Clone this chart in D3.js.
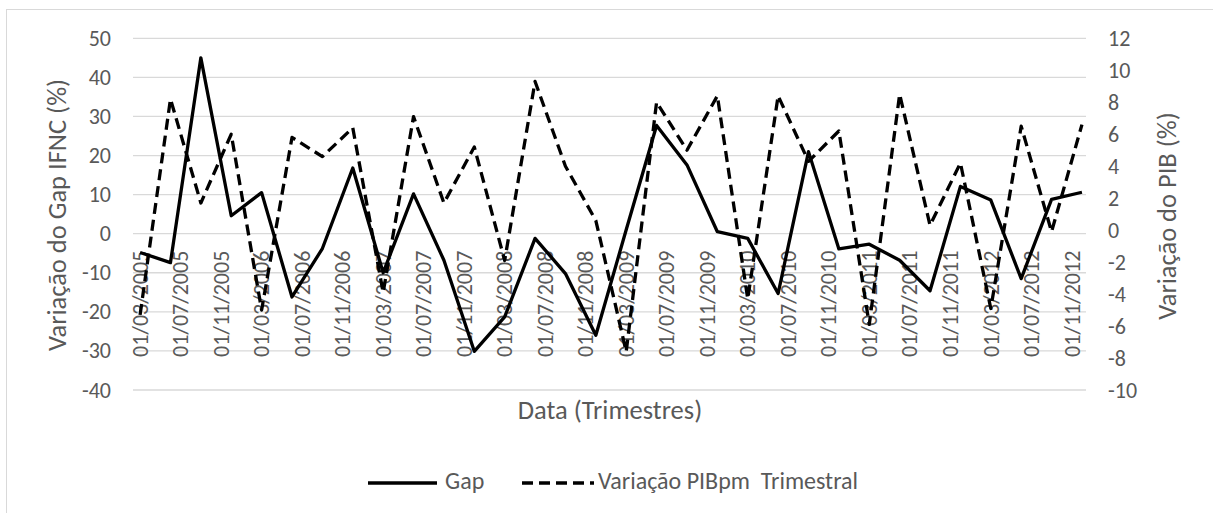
<!DOCTYPE html>
<html>
<head>
<meta charset="utf-8">
<script src="https://cdn.jsdelivr.net/npm/d3@7"></script>
<style>
  html, body { margin: 0; padding: 0; background: #fff; }
  svg text { font-family: Carlito, Lato, "Open Sans", sans-serif; fill: #595959; }
</style>
</head>
<body>
<svg id="chart" width="1213" height="513"></svg>
<script>
// Quarterly observations (dd/mm/yyyy)
const quarters = [
  "01/03/2005","01/06/2005","01/09/2005","01/12/2005",
  "01/03/2006","01/06/2006","01/09/2006","01/12/2006",
  "01/03/2007","01/06/2007","01/09/2007","01/12/2007",
  "01/03/2008","01/06/2008","01/09/2008","01/12/2008",
  "01/03/2009","01/06/2009","01/09/2009","01/12/2009",
  "01/03/2010","01/06/2010","01/09/2010","01/12/2010",
  "01/03/2011","01/06/2011","01/09/2011","01/12/2011",
  "01/03/2012","01/06/2012","01/09/2012","01/12/2012"
];

// Gap IFNC variation (%), left axis
const gap = [
  -4.8, -7.4, 45.0, 4.6, 10.5, -16.2, -3.8, 16.8,
  -10.0, 10.2, -6.8, -30.1, -21.3, -1.2, -10.2, -26.0,
  1.0, 27.7, 17.6, 0.5, -1.2, -15.3, 21.0, -3.9,
  -2.7, -6.8, -14.6, 12.1, 8.6, -11.5, 8.8, 10.6
];

// Quarterly GDP (PIBpm) variation (%), right axis
const pib = [
  -5.3, 8.2, 1.7, 6.0, -5.0, 5.8, 4.6, 6.4,
  -3.9, 7.1, 1.7, 5.2, -1.9, 9.3, 4.0, 0.6,
  -7.6, 8.0, 5.0, 8.4, -4.3, 8.4, 4.3, 6.2,
  -5.9, 8.5, 0.3, 4.2, -4.9, 6.5, -0.1, 6.6
];

// Date axis labels (every four months)
const xTickLabels = [
  "01/03/2005","01/07/2005","01/11/2005","01/03/2006","01/07/2006","01/11/2006",
  "01/03/2007","01/07/2007","01/11/2007","01/03/2008","01/07/2008","01/11/2008",
  "01/03/2009","01/07/2009","01/11/2009","01/03/2010","01/07/2010","01/11/2010",
  "01/03/2011","01/07/2011","01/11/2011","01/03/2012","01/07/2012","01/11/2012"
];
const leftTicks = [50, 40, 30, 20, 10, 0, -10, -20, -30, -40];
const rightTicks = [12, 10, 8, 6, 4, 2, 0, -2, -4, -6, -8, -10];

const seriesNames = ["Gap", "Variação PIBpm  Trimestral"];
const leftTitle = "Variação do Gap IFNC (%)";
const rightTitle = "Variação do PIB (%)";
const xTitle = "Data (Trimestres)";

const parse = d3.timeParse("%d/%m/%Y");
const origin = parse(quarters[0]);
const monthIndex = s => d3.timeMonth.count(origin, parse(s));

const svg = d3.select("#chart");
const plot = { left: 133, right: 1086, top: 38.3, bottom: 390 };
const tickFont = 22;
const titleFont = 26.5;
const legendFont = 24;

// chart frame
svg.append("rect")
  .attr("x", 6.5).attr("y", 9.5)
  .attr("width", 1213).attr("height", 513)
  .attr("fill", "none").attr("stroke", "#d9d9d9").attr("stroke-width", 1);

const x = d3.scaleLinear()
  .domain([-0.7, monthIndex(quarters[quarters.length - 1]) + 0.4])
  .range([plot.left, plot.right]);
const yL = d3.scaleLinear().domain([-40, 50]).range([plot.bottom, plot.top]);
const yR = d3.scaleLinear().domain([-10, 12]).range([plot.bottom, plot.top]);

// horizontal gridlines
svg.append("g").selectAll("line").data(leftTicks).join("line")
  .attr("x1", plot.left).attr("x2", plot.right)
  .attr("y1", d => yL(d)).attr("y2", d => yL(d))
  .attr("stroke", "#d9d9d9").attr("stroke-width", 1.3);

const plainNumber = d => String(d);

// left axis
const axL = svg.append("g")
  .attr("transform", `translate(${plot.left - 22},0)`)
  .call(d3.axisLeft(yL).tickValues(leftTicks).tickFormat(plainNumber).tickSize(0).tickPadding(0));
axL.select(".domain").remove();
axL.selectAll("text").attr("font-size", tickFont).attr("fill", "#595959")
  .style("font-family", null);

// right axis
const axR = svg.append("g")
  .attr("transform", `translate(${plot.right + 22},0)`)
  .call(d3.axisRight(yR).tickValues(rightTicks).tickFormat(plainNumber).tickSize(0).tickPadding(0));
axR.select(".domain").remove();
axR.selectAll("text").attr("font-size", tickFont).attr("fill", "#595959")
  .style("font-family", null);

// date labels, rotated, hanging below the zero line
svg.append("g").selectAll("text").data(xTickLabels).join("text")
  .attr("transform", d => `translate(${x(monthIndex(d))},${yL(0) + 17}) rotate(-90)`)
  .attr("text-anchor", "end")
  .attr("dy", "0.35em")
  .attr("font-size", tickFont)
  .text(d => d);

// series lines
const gapLine = d3.line()
  .x((d, i) => x(monthIndex(quarters[i])))
  .y(d => yL(d));
const pibLine = d3.line()
  .x((d, i) => x(monthIndex(quarters[i])))
  .y(d => yR(d));

svg.append("path").datum(pib)
  .attr("d", pibLine)
  .attr("fill", "none").attr("stroke", "#000").attr("stroke-width", 3.3)
  .attr("stroke-dasharray", "11,6").attr("stroke-linejoin", "round");

svg.append("path").datum(gap)
  .attr("d", gapLine)
  .attr("fill", "none").attr("stroke", "#000").attr("stroke-width", 3.3)
  .attr("stroke-linejoin", "round");

// axis titles
svg.append("text")
  .attr("transform", `translate(57,215) rotate(-90)`)
  .attr("text-anchor", "middle").attr("dy", "0.35em")
  .attr("font-size", titleFont).text(leftTitle);
svg.append("text")
  .attr("transform", `translate(1167,216) rotate(-90)`)
  .attr("text-anchor", "middle").attr("dy", "0.35em")
  .attr("font-size", titleFont).text(rightTitle);
svg.append("text")
  .attr("x", 610).attr("y", 419)
  .attr("text-anchor", "middle")
  .attr("font-size", titleFont).text(xTitle);

// legend
const legY = 483;
const leg = svg.append("g");
leg.append("line").attr("x1", 368).attr("x2", 437).attr("y1", legY).attr("y2", legY)
  .attr("stroke", "#000").attr("stroke-width", 3.3);
leg.append("text").attr("x", 445).attr("y", 489).attr("font-size", legendFont)
  .text(seriesNames[0]);
leg.append("line").attr("x1", 522).attr("x2", 594).attr("y1", legY).attr("y2", legY)
  .attr("stroke", "#000").attr("stroke-width", 3.3).attr("stroke-dasharray", "11,6");
leg.append("text").attr("x", 598).attr("y", 489).attr("font-size", legendFont)
  .attr("xml:space", "preserve").style("white-space", "pre")
  .text(seriesNames[1]);
</script>
</body>
</html>
